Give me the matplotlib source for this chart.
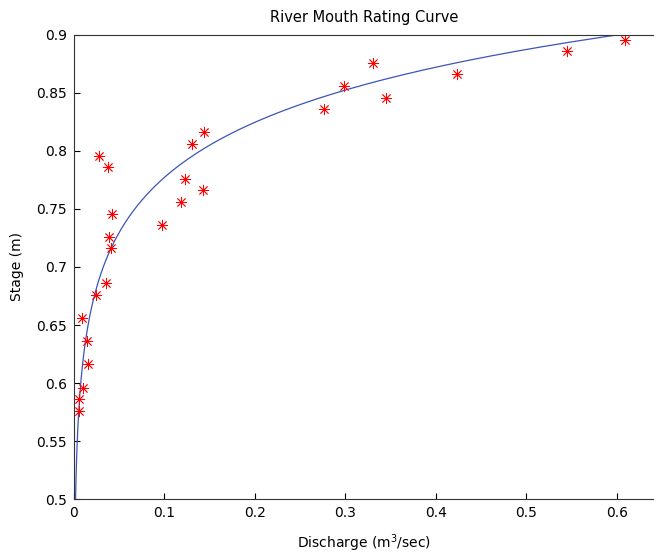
import numpy as np
from matplotlib import pyplot as plt

plt.rcParams['font.family'] = ['DejaVu Sans']

# measured discharge (m^3/sec) and stage (m)
discharge = [0.0055, 0.0059, 0.0103, 0.0158, 0.014, 0.0085, 0.0246, 0.035,
             0.0414, 0.039, 0.097, 0.042, 0.118, 0.143, 0.123, 0.038,
             0.028, 0.130, 0.144, 0.276, 0.345, 0.298, 0.423, 0.331,
             0.545, 0.609]
stage = [0.586, 0.576, 0.596, 0.616, 0.636, 0.656, 0.676, 0.686,
         0.716, 0.726, 0.736, 0.746, 0.756, 0.766, 0.776, 0.786,
         0.796, 0.806, 0.816, 0.836, 0.846, 0.856, 0.866, 0.876,
         0.886, 0.896]

# rating curve h = a + b*ln(Q)
a = 0.935
b = 0.0685

h = np.linspace(0.5, 0.9, 400)
q = np.exp((h - a) / b)

fig = plt.figure(figsize=(6.54, 5.57), dpi=100)
ax = fig.add_axes([0.1131, 0.1041, 0.8869, 0.8331])

ax.plot(q, h, color='#3a55b8', linewidth=0.9)
ax.plot(discharge, stage, linestyle='none', marker=(8, 2, 0),
        markersize=8, markeredgewidth=0.6, color='red')

ax.set_xlim(0, 0.641)
ax.set_ylim(0.5, 0.9)
ax.set_xticks([0, 0.1, 0.2, 0.3, 0.4, 0.5, 0.6])
ax.set_xticklabels(['0', '0.1', '0.2', '0.3', '0.4', '0.5', '0.6'])
ax.set_yticks([0.5, 0.55, 0.6, 0.65, 0.7, 0.75, 0.8, 0.85, 0.9])
ax.set_yticklabels(['0.5', '0.55', '0.6', '0.65', '0.7', '0.75', '0.8', '0.85', '0.9'])
ax.tick_params(direction='in', length=4, width=0.8, labelsize=10, pad=5)
ax.spines['right'].set_visible(False)
for s in ['left', 'bottom', 'top']:
    ax.spines[s].set_linewidth(0.8)
    ax.spines[s].set_color('#333333')

ax.set_title('River Mouth Rating Curve', fontsize=10.5, pad=9)
ax.set_xlabel('Discharge (m$^3$/sec)', fontsize=10, labelpad=9)
ax.set_ylabel('Stage (m)', fontsize=10, labelpad=9)

fig.savefig('out.png', dpi=100)
